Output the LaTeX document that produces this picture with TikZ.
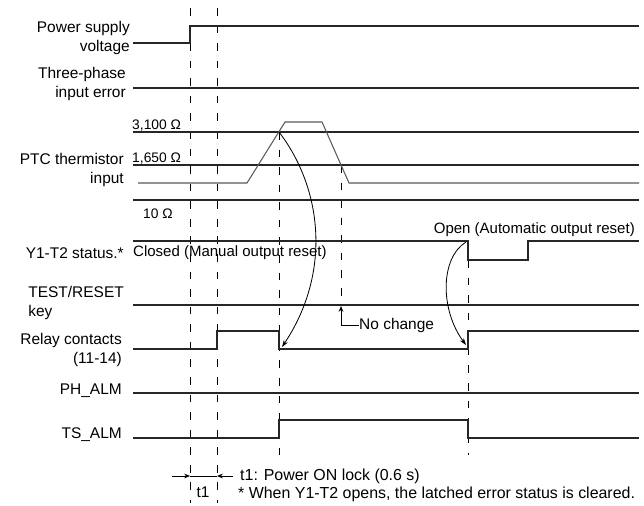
\documentclass[tikz,border=0pt]{standalone}
\usepackage{fontspec}
\setmainfont{Liberation Sans}
\usetikzlibrary{arrows.meta}
\tikzset{
  sig/.style={line width=1.4pt, color=black!85},
  ptc/.style={line width=0.9pt, color=black!65},
  guide/.style={line width=0.6pt, dash pattern=on 6.5pt off 8.5pt},
  lbl/.style={font=\fontsize{13.2}{17}\selectfont, inner sep=0pt},
  state/.style={font=\fontsize{12.8}{15}\selectfont, inner sep=0pt},
  note/.style={font=\fontsize{13.6}{16}\selectfont, inner sep=0pt, anchor=west},
  ohm/.style={font=\fontsize{11.8}{13}\selectfont, inner sep=0pt, anchor=base west},
  bendarrow/.style={line width=0.7pt, -{Stealth[length=6pt,width=4pt]}},
  tip/.style={line width=0.7pt, -{Stealth[length=5pt,width=4pt]}}
}
\begin{document}
\begin{tikzpicture}[x=0.03cm,y=-0.03cm]
  \useasboundingbox (0,0) rectangle (644,506);

  % labels on the left
  \node [lbl, anchor=east, align=right] (psv) at (130,38) {Power supply\\voltage};
  \node [lbl, anchor=east, align=right] (tpe) at (126,84) {Three-phase\\input error};
  \node [lbl, anchor=east, align=right] (ptcin) at (124,170) {PTC thermistor\\input};
  \node [lbl, anchor=east] (yst) at (124,253) {Y1-T2 status.*};
  \node [lbl, anchor=east, align=left] (trk) at (124,303) {TEST/RESET\\key};
  \node [lbl, anchor=east, align=right] (rly) at (122,350) {Relay contacts\\(11-14)};
  \node [lbl, anchor=east] (pha) at (122,391) {PH\_ALM};
  \node [lbl, anchor=east] (tsa) at (122,435) {TS\_ALM};

  % resistance levels
  \node [ohm] (r3100) at (132,129) {3,100 Ω};
  \node [ohm] (r1650) at (132,162) {1,650 Ω};
  \node [ohm] (r10) at (143,218) {10 Ω};

  % guide lines
  \draw [guide] (190,8) -- (190,503);
  \draw [guide] (217,8) -- (217,503);
  \draw [guide] (279,132) -- (279,455);
  \draw [guide] (341,165) -- (341,305);
  \draw [guide] (468,260) -- (468,455);

  % signals
  \draw [sig] (133,43) -- (190,43) -- (190,26) -- (639,26);
  \draw [sig] (133,88) -- (639,88);
  \draw [sig] (133,132) -- (639,132);
  \draw [sig] (133,165) -- (639,165);
  \draw [sig] (133,200) -- (639,200);
  \draw [ptc] (138,183) -- (247,183) -- (285,122) -- (322,122) -- (349,183) -- (639,183);
  \draw [sig] (133,241) -- (468,241) -- (468,260) -- (528,260) -- (528,241) -- (639,241);
  \draw [sig] (133,305) -- (639,305);
  \draw [sig] (133,349) -- (217,349) -- (217,331) -- (279,331) -- (279,349) -- (468,349) -- (468,331) -- (639,331);
  \draw [sig] (133,393) -- (639,393);
  \draw [sig] (133,438) -- (279,438) -- (279,420) -- (468,420) -- (468,438) -- (639,438);

  % status texts
  \node [state, anchor=west] (closed) at (133,253) {Closed (Manual output reset)};
  \node [state, anchor=east] (open) at (635,230) {Open (Automatic output reset)};
  \node [lbl, anchor=west] (nochg) at (359,325) {No change};

  % curved arrows
  \coordinate (hot) at (279,132);
  \coordinate (relayoff) at (282,347);
  \coordinate (yopen) at (466,242);
  \coordinate (relayon) at (466,345);
  \draw [bendarrow] (hot) .. controls (322,188) and (332,272) .. (relayoff);
  \draw [bendarrow] (yopen) .. controls (440,258) and (440,310) .. (relayon);
  \coordinate (keyhit) at (341,306);
  \draw [tip] (nochg.west) -| (keyhit);

  % t1 span
  \coordinate (ta) at (190,476);
  \coordinate (tb) at (217,476);
  \draw [line width=0.7pt] (ta) -- (tb);
  \draw [tip] (172,476) -- (ta);
  \draw [tip] (233,476) -- (tb);
  \node [lbl] (t1) at (203,492) {t1};
  \node [note] (lock) at (240,476) {t1: Power ON lock (0.6 s)};
  \node [note] (foot) at (238,494) {* When Y1-T2 opens, the latched error status is cleared.};
\end{tikzpicture}
\end{document}
